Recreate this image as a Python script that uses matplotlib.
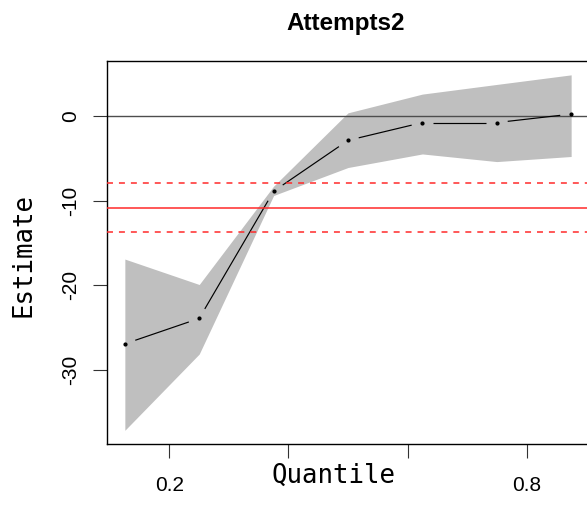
import matplotlib
matplotlib.use("Agg")
import matplotlib.pyplot as plt
import numpy as np

# ---- data ----
taus = [0.125, 0.25, 0.375, 0.5, 0.625, 0.75, 0.875]
estimate = [-26.9, -23.9, -8.9, -2.9, -0.8, -0.8, 0.2]
lower = [-37.1, -28.1, -9.4, -6.1, -4.5, -5.4, -4.8]
upper = [-16.9, -19.9, -8.3, 0.35, 2.56, 3.7, 4.83]
ols_est = -10.85
ols_lo = -13.65
ols_hi = -7.95
xticks = [0.2, 0.4, 0.6, 0.8]
xticklabels = ["0.2", "", "", "0.8"]
yticks = [0, -10, -20, -30]
yticklabels = ["0", "-10", "-20", "-30"]
title = "Attempts2"
xlabel = "Quantile"
ylabel = "Estimate"

plt.rcParams["lines.scale_dashes"] = False
W, H = 587, 505
fig = plt.figure(figsize=(W / 100, H / 100), dpi=100)
ax = fig.add_axes([107 / W, 1 - 444.3 / H, 482 / W, 383.6 / H])
ax.set_xlim(0.095, 0.905)
ax.set_ylim(-38.75, 6.5)

ax.fill_between(taus, lower, upper, color="#BFBFBF", lw=0, antialiased=False, zorder=1)

# line with gaps around points (R type="b")
fig.canvas.draw()
tr = ax.transData
inv = tr.inverted()
pts = tr.transform(np.column_stack([taus, estimate]))
gap = 11.0
for i in range(len(pts) - 1):
    p0, p1 = pts[i], pts[i + 1]
    d = p1 - p0
    L = np.hypot(*d)
    if L > 2 * gap:
        u = d / L
        a = inv.transform(p0 + u * gap)
        b = inv.transform(p1 - u * gap)
        ax.plot([a[0], b[0]], [a[1], b[1]], color="black", lw=0.85, zorder=3,
                solid_capstyle="butt")
ax.plot(taus, estimate, "o", color="black", ms=2.0, zorder=4)

ax.axhline(0, color="#4D4D4D", lw=1.0, zorder=2)
ax.axhline(ols_est, color="#FF2A2A", lw=1.1, zorder=5)
ax.axhline(ols_lo, color="#FF2A2A", lw=1.1, dashes=(4.3, 4.3), zorder=5)
ax.axhline(ols_hi, color="#FF2A2A", lw=1.1, dashes=(4.3, 4.3), zorder=5)

for s in ax.spines.values():
    s.set_linewidth(1.0)
    s.set_color("black")

ax.set_xticks(xticks)
ax.set_xticklabels(xticklabels, fontfamily="Liberation Sans", fontsize=15)
ax.set_yticks(yticks)
ax.set_yticklabels(yticklabels, fontfamily="Liberation Sans", fontsize=15,
                   rotation=90, va="center", ha="center")
ax.tick_params(axis="x", length=10, width=0.8, color="#333333", pad=12.5)
ax.tick_params(axis="y", length=10, width=0.8, color="#333333", pad=16)

fig.text(346 / W, 1 - 30 / H, title, ha="center", va="baseline",
         fontfamily="Liberation Sans", fontweight="bold", fontsize=17.5)
fig.text(333.7 / W, 1 - 483.3 / H, xlabel, ha="center", va="baseline",
         fontfamily="DejaVu Sans Mono", fontsize=18.5)
fig.text(23.3 / W, 1 - 255 / H, ylabel, ha="center", va="center", rotation=90,
         fontfamily="DejaVu Sans Mono", fontsize=18.5)

fig.savefig("out.png", dpi=100)
